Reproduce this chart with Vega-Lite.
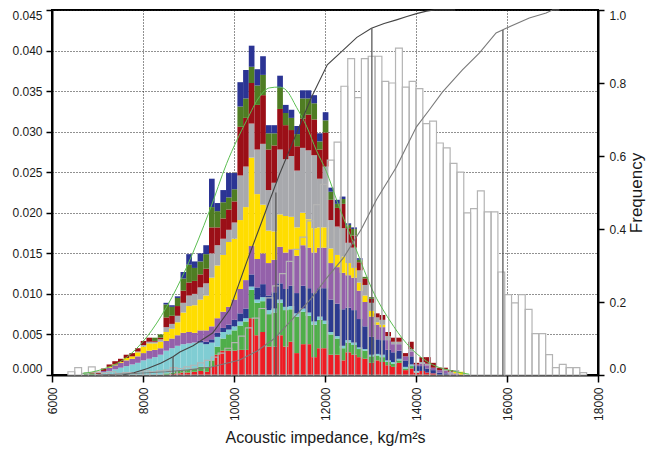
{
"$schema": "https://vega.github.io/schema/vega-lite/v6.json",
"width": 546, "height": 365,
"autosize": {"type": "none"},
"padding": {"left": 52, "top": 10, "right": 49, "bottom": 74},
"background": "white",
"config": {
 "view": {"stroke": "black", "strokeWidth": 2},
 "axis": {"labelFont": "Liberation Sans", "labelFontSize": 12, "labelColor": "#1a1a1a", "titleFont": "Liberation Sans", "titleFontWeight": "normal", "titleColor": "#1a1a1a", "domainColor": "black", "domainWidth": 2, "tickColor": "black", "tickWidth": 1.5, "tickSize": 6, "gridColor": "#222", "gridDash": [1, 2], "gridWidth": 1, "gridOpacity": 1}
},
"datasets": {
 "white": [
  {"lo":6350,"hi":6500,"f":0.0004},{"lo":6500,"hi":6650,"f":0.0009},{"lo":6650,"hi":6800,"f":0.0002},{"lo":6800,"hi":6950,"f":0.001},
  {"lo":6950,"hi":7100,"f":0.0003},{"lo":7100,"hi":7250,"f":0.0003},{"lo":7250,"hi":7400,"f":0.0004},{"lo":7400,"hi":7550,"f":0.0002},
  {"lo":7550,"hi":7700,"f":0.0003},{"lo":7700,"hi":7850,"f":0.0003},{"lo":7850,"hi":8000,"f":0.0004},{"lo":8000,"hi":8150,"f":0.0005},
  {"lo":8150,"hi":8300,"f":0.0004},{"lo":8300,"hi":8450,"f":0.0005},{"lo":8450,"hi":8600,"f":0.0006},{"lo":8600,"hi":8750,"f":0.0009},
  {"lo":8750,"hi":8900,"f":0.0008},{"lo":8900,"hi":9050,"f":0.001},{"lo":9050,"hi":9200,"f":0.0012},{"lo":9200,"hi":9350,"f":0.0015},
  {"lo":9350,"hi":9500,"f":0.0018},{"lo":9500,"hi":9650,"f":0.0022},{"lo":9650,"hi":9800,"f":0.0027},{"lo":9800,"hi":9950,"f":0.0033},
  {"lo":9950,"hi":10100,"f":0.004},{"lo":10100,"hi":10250,"f":0.0048},{"lo":10250,"hi":10400,"f":0.0058},{"lo":10400,"hi":10550,"f":0.007},
  {"lo":10550,"hi":10700,"f":0.0082},{"lo":10700,"hi":10850,"f":0.0095},{"lo":10850,"hi":11000,"f":0.011},{"lo":11000,"hi":11150,"f":0.0125},
  {"lo":11150,"hi":11300,"f":0.014},{"lo":11300,"hi":11450,"f":0.0155},{"lo":11450,"hi":11600,"f":0.017},{"lo":11600,"hi":11750,"f":0.019},
  {"lo":11750,"hi":11900,"f":0.021},{"lo":11900,"hi":12050,"f":0.0235},{"lo":12050,"hi":12200,"f":0.0265},{"lo":12200,"hi":12350,"f":0.0287},
  {"lo":12350,"hi":12500,"f":0.0356},{"lo":12500,"hi":12650,"f":0.039},{"lo":12650,"hi":12800,"f":0.0342},{"lo":12800,"hi":12950,"f":0.039},
  {"lo":12950,"hi":13100,"f":0.0393},{"lo":13100,"hi":13250,"f":0.0393},{"lo":13250,"hi":13400,"f":0.0362},{"lo":13400,"hi":13550,"f":0.036},
  {"lo":13550,"hi":13700,"f":0.0403},{"lo":13700,"hi":13850,"f":0.0355},{"lo":13850,"hi":14000,"f":0.0362},{"lo":14000,"hi":14150,"f":0.0353},
  {"lo":14150,"hi":14300,"f":0.031},{"lo":14300,"hi":14450,"f":0.0313},{"lo":14450,"hi":14600,"f":0.0286},{"lo":14600,"hi":14750,"f":0.028},
  {"lo":14750,"hi":14900,"f":0.0261},{"lo":14900,"hi":15050,"f":0.025},{"lo":15050,"hi":15200,"f":0.02},{"lo":15200,"hi":15350,"f":0.0205},
  {"lo":15350,"hi":15500,"f":0.0227},{"lo":15500,"hi":15650,"f":0.0201},{"lo":15650,"hi":15800,"f":0.0201},{"lo":15800,"hi":15950,"f":0.0127},
  {"lo":15950,"hi":16100,"f":0.0099},{"lo":16100,"hi":16250,"f":0.0089},{"lo":16250,"hi":16400,"f":0.0099},{"lo":16400,"hi":16550,"f":0.0081},
  {"lo":16550,"hi":16700,"f":0.0051},{"lo":16700,"hi":16850,"f":0.0051},{"lo":16850,"hi":17000,"f":0.0025},{"lo":17000,"hi":17150,"f":0.0009},
  {"lo":17150,"hi":17300,"f":0.0013},{"lo":17300,"hi":17450,"f":0.0009},{"lo":17450,"hi":17600,"f":0.0009},{"lo":17600,"hi":17750,"f":0.0003}
 ],
 "stack": [
  {"lo":6700,"hi":6825,"c02":0.0003},
  {"lo":6825,"hi":6950,"c02":0.0002,"c08":0.0001},
  {"lo":6950,"hi":7075,"c03":0.0001,"c08":0.0003},
  {"lo":7075,"hi":7200,"c03":0.0003,"c05":0.0002,"c08":0.0003},
  {"lo":7200,"hi":7325,"c03":0.0005,"c05":0.0004,"c06":0.0001,"c08":0.0003},
  {"lo":7325,"hi":7450,"c03":0.0007,"c05":0.0005,"c06":0.0001,"c08":0.0004},
  {"lo":7450,"hi":7575,"c03":0.0009,"c05":0.0006,"c06":0.0001,"c08":0.0004},
  {"lo":7575,"hi":7700,"c03":0.0011,"c05":0.0007,"c06":0.0003,"c08":0.0004},
  {"lo":7700,"hi":7825,"c03":0.0013,"c05":0.0007,"c06":0.0003,"c08":0.0004},
  {"lo":7825,"hi":7950,"c03":0.0015,"c05":0.0008,"c06":0.0005,"c07":0.0001,"c08":0.0004},
  {"lo":7950,"hi":8075,"c03":0.0018,"c05":0.0009,"c06":0.0008,"c07":0.0002,"c08":0.0005},
  {"lo":8075,"hi":8200,"c03":0.002,"c05":0.001,"c06":0.0009,"c07":0.0002,"c08":0.0005},
  {"lo":8200,"hi":8325,"c03":0.0022,"c05":0.0009,"c06":0.0008,"c07":0.0002,"c08":0.0001,"c09":0.0004},
  {"lo":8325,"hi":8450,"c03":0.0025,"c05":0.0008,"c06":0.0008,"c07":0.0003,"c08":0.0002,"c09":0.0004},
  {"lo":8450,"hi":8575,"c02":0.0002,"c03":0.0028,"c05":0.0012,"c06":0.0011,"c07":0.0006,"c08":0.0012,"c09":0.0016,"c10":0.0002},
  {"lo":8575,"hi":8700,"c01":0.0001,"c02":0.0002,"c03":0.003,"c05":0.0012,"c06":0.0012,"c07":0.0006,"c08":0.001,"c09":0.0011,"c10":0.0002},
  {"lo":8700,"hi":8825,"c01":0.0002,"c02":0.0003,"c03":0.0031,"c05":0.0013,"c06":0.0016,"c07":0.0008,"c08":0.0012,"c09":0.001,"c10":0.0002},
  {"lo":8825,"hi":8950,"c01":0.0003,"c02":0.0003,"c03":0.0032,"c05":0.0014,"c06":0.0025,"c07":0.0012,"c08":0.0015,"c09":0.0015,"c10":0.0008},
  {"lo":8950,"hi":9075,"c01":0.0003,"c02":0.0004,"c03":0.0032,"c05":0.0014,"c06":0.0032,"c07":0.0013,"c08":0.0016,"c09":0.0022,"c10":0.0013},
  {"lo":9075,"hi":9200,"c01":0.0004,"c02":0.0004,"c03":0.0032,"c05":0.0012,"c06":0.0034,"c07":0.0014,"c08":0.0016,"c09":0.0016,"c10":0.0008},
  {"lo":9200,"hi":9325,"c01":0.0005,"c02":0.0005,"c03":0.003,"c04":0.0002,"c05":0.0013,"c06":0.0038,"c07":0.0015,"c08":0.0016,"c09":0.0016,"c10":0.001},
  {"lo":9325,"hi":9450,"c01":0.0004,"c02":0.0006,"c03":0.0028,"c04":0.0003,"c05":0.0014,"c06":0.0043,"c07":0.0015,"c08":0.0018,"c09":0.0018,"c10":0.0011},
  {"lo":9450,"hi":9575,"c01":0.001,"c02":0.0008,"c03":0.0022,"c04":0.0004,"c05":0.0016,"c06":0.006,"c07":0.003,"c08":0.0032,"c09":0.0025,"c10":0.0035},
  {"lo":9575,"hi":9700,"c01":0.0025,"c02":0.001,"c03":0.0012,"c04":0.0005,"c05":0.0018,"c06":0.0065,"c07":0.0025,"c08":0.0022,"c09":0.002,"c10":0.001},
  {"lo":9700,"hi":9825,"c01":0.003,"c02":0.0015,"c03":0.0008,"c04":0.0005,"c05":0.002,"c06":0.007,"c07":0.002,"c08":0.0025,"c09":0.002,"c10":0.0015},
  {"lo":9825,"hi":9950,"c01":0.003,"c02":0.002,"c03":0.0006,"c04":0.0006,"c05":0.0022,"c06":0.008,"c07":0.0015,"c08":0.0025,"c09":0.0015,"c10":0.003},
  {"lo":9950,"hi":10075,"c01":0.003,"c02":0.0025,"c03":0.0005,"c04":0.0008,"c05":0.0025,"c06":0.0075,"c07":0.002,"c08":0.0026,"c09":0.0015,"c10":0.002},
  {"lo":10075,"hi":10200,"c01":0.0031,"c02":0.003,"c03":0.0005,"c04":0.001,"c05":0.003,"c06":0.0085,"c07":0.0055,"c08":0.006,"c09":0.0025,"c10":0.003},
  {"lo":10200,"hi":10325,"c01":0.0031,"c02":0.0035,"c03":0.0004,"c04":0.0012,"c05":0.0035,"c06":0.009,"c07":0.005,"c08":0.006,"c09":0.0024,"c10":0.0035},
  {"lo":10325,"hi":10450,"c01":0.007,"c02":0.0035,"c03":0.0004,"c04":0.0015,"c05":0.0035,"c06":0.0109,"c07":0.0042,"c08":0.005,"c09":0.002,"c10":0.0026},
  {"lo":10450,"hi":10575,"c01":0.0049,"c02":0.004,"c03":0.0004,"c04":0.0015,"c05":0.0035,"c06":0.008,"c07":0.0055,"c08":0.0055,"c09":0.0024,"c10":0.002},
  {"lo":10575,"hi":10700,"c01":0.0053,"c02":0.0038,"c03":0.0005,"c04":0.0016,"c05":0.0038,"c06":0.006,"c07":0.0075,"c08":0.006,"c09":0.0025,"c10":0.0023},
  {"lo":10700,"hi":10825,"c01":0.0035,"c02":0.004,"c03":0.0005,"c04":0.0018,"c05":0.004,"c06":0.004,"c07":0.005,"c08":0.005,"c09":0.002,"c10":0.001},
  {"lo":10825,"hi":10950,"c01":0.0035,"c02":0.0042,"c03":0.0005,"c04":0.002,"c05":0.004,"c06":0.0035,"c07":0.006,"c08":0.0046,"c09":0.0015,"c10":0.001},
  {"lo":10950,"hi":11075,"c01":0.0049,"c02":0.004,"c03":0.0004,"c04":0.002,"c05":0.0045,"c06":0.004,"c07":0.008,"c08":0.005,"c09":0.0026,"c10":0.0015},
  {"lo":11075,"hi":11200,"c01":0.0035,"c02":0.0045,"c03":0.0004,"c04":0.0022,"c05":0.0045,"c06":0.0045,"c07":0.007,"c08":0.0042,"c09":0.0015,"c10":0.001},
  {"lo":11200,"hi":11325,"c01":0.0041,"c02":0.004,"c03":0.0004,"c04":0.0025,"c05":0.0045,"c06":0.004,"c07":0.0075,"c08":0.0032,"c09":0.0015,"c10":0.001},
  {"lo":11325,"hi":11450,"c01":0.0027,"c02":0.0045,"c03":0.0004,"c04":0.0025,"c05":0.0046,"c06":0.0035,"c07":0.007,"c08":0.003,"c09":0.0015,"c10":0.001},
  {"lo":11450,"hi":11575,"c01":0.0038,"c02":0.004,"c03":0.0004,"c04":0.0028,"c05":0.005,"c06":0.004,"c07":0.008,"c08":0.0036,"c09":0.0025,"c10":0.001},
  {"lo":11575,"hi":11700,"c01":0.0038,"c02":0.0035,"c03":0.0004,"c04":0.003,"c05":0.005,"c06":0.0035,"c07":0.0085,"c08":0.0044,"c09":0.002,"c10":0.001},
  {"lo":11700,"hi":11825,"c01":0.0022,"c02":0.004,"c03":0.0004,"c04":0.0035,"c05":0.005,"c06":0.003,"c07":0.009,"c08":0.0044,"c09":0.002,"c10":0.001},
  {"lo":11825,"hi":11950,"c01":0.0033,"c02":0.0035,"c03":0.0004,"c04":0.0035,"c05":0.005,"c06":0.0025,"c07":0.006,"c08":0.0036,"c09":0.001,"c10":0.001},
  {"lo":11950,"hi":12075,"c01":0.0033,"c02":0.003,"c03":0.0004,"c04":0.004,"c05":0.005,"c06":0.0025,"c07":0.0075,"c08":0.0042,"c09":0.0015,"c10":0.001},
  {"lo":12075,"hi":12200,"c01":0.0025,"c02":0.0025,"c03":0.0003,"c04":0.004,"c05":0.0045,"c06":0.0018,"c07":0.0035,"c08":0.0025,"c09":0.001,"c10":0.0005},
  {"lo":12200,"hi":12325,"c01":0.0025,"c02":0.002,"c03":0.0003,"c04":0.004,"c05":0.0045,"c06":0.0015,"c07":0.0035,"c08":0.0023,"c09":0.0005,"c10":0.0005},
  {"lo":12325,"hi":12450,"c01":0.0018,"c02":0.0015,"c03":0.0003,"c04":0.0045,"c05":0.0045,"c06":0.002,"c07":0.0035,"c08":0.003,"c09":0.0006,"c10":0.0003},
  {"lo":12450,"hi":12575,"c01":0.0028,"c02":0.0012,"c03":0.0003,"c04":0.004,"c05":0.004,"c06":0.0015,"c07":0.0025,"c08":0.0018,"c09":0.0004,"c10":0.0002},
  {"lo":12575,"hi":12700,"c01":0.0025,"c02":0.0012,"c03":0.0003,"c04":0.004,"c05":0.004,"c06":0.0012,"c07":0.0025,"c08":0.0015,"c09":0.0008,"c10":0.0002},
  {"lo":12700,"hi":12825,"c01":0.0022,"c02":0.001,"c03":0.0002,"c04":0.0035,"c05":0.0035,"c06":0.001,"c07":0.0015,"c08":0.001,"c09":0.0003,"c10":0.0002},
  {"lo":12825,"hi":12950,"c01":0.002,"c02":0.001,"c03":0.0002,"c04":0.0028,"c05":0.003,"c06":0.0008,"c07":0.0013,"c08":0.0008,"c09":0.0002},
  {"lo":12950,"hi":13075,"c01":0.0015,"c02":0.0008,"c03":0.0002,"c04":0.0022,"c05":0.0025,"c06":0.0007,"c07":0.001,"c08":0.0005,"c09":0.0002},
  {"lo":13075,"hi":13200,"c01":0.0018,"c02":0.0006,"c03":0.0002,"c04":0.0018,"c05":0.0018,"c06":0.0003,"c07":0.0006,"c08":0.0005},
  {"lo":13200,"hi":13325,"c01":0.0016,"c02":0.0006,"c03":0.0003,"c04":0.0018,"c05":0.0016,"c06":0.0003,"c07":0.0006,"c08":0.0006},
  {"lo":13325,"hi":13450,"c01":0.0012,"c02":0.0004,"c03":0.0002,"c04":0.0013,"c05":0.0012,"c07":0.0005,"c08":0.0005},
  {"lo":13450,"hi":13575,"c01":0.001,"c02":0.0004,"c03":0.0002,"c04":0.0012,"c05":0.001,"c07":0.0003,"c08":0.0005},
  {"lo":13575,"hi":13700,"c01":0.0015,"c02":0.0003,"c03":0.0002,"c04":0.001,"c05":0.0008,"c07":0.0003,"c08":0.0005},
  {"lo":13700,"hi":13825,"c01":0.0006,"c02":0.0002,"c03":0.0002,"c04":0.0008,"c05":0.0005,"c08":0.0004},
  {"lo":13825,"hi":13950,"c01":0.0008,"c02":0.0003,"c03":0.0002,"c04":0.001,"c05":0.0006,"c07":0.0003,"c08":0.0009},
  {"lo":13950,"hi":14075,"c01":0.0003,"c03":0.0002,"c04":0.0006,"c05":0.0002,"c08":0.0002},
  {"lo":14075,"hi":14200,"c01":0.0005,"c04":0.0006,"c05":0.0003,"c07":0.0002,"c08":0.0006},
  {"lo":14200,"hi":14325,"c01":0.0003,"c04":0.0005,"c05":0.0004,"c07":0.0002,"c08":0.0008},
  {"lo":14325,"hi":14450,"c01":0.0002,"c04":0.0004,"c05":0.0003,"c08":0.0006},
  {"lo":14450,"hi":14575,"c04":0.0003,"c05":0.0003,"c08":0.0003},
  {"lo":14575,"hi":14700,"c04":0.0002,"c05":0.0003,"c07":0.0002,"c08":0.0002},
  {"lo":14700,"hi":14825,"c05":0.0002,"c07":0.0002,"c08":0.0002},
  {"lo":14825,"hi":14950,"c05":0.0002,"c06":0.0002,"c07":0.0002},
  {"lo":14950,"hi":15075,"c06":0.0004}
 ],
 "gauss": [
  {"x":6680,"v":0.0002},{"x":7050,"v":0.0006},{"x":7645,"v":0.0022},{"x":8085,"v":0.0047},{"x":8520,"v":0.0084},
  {"x":8960,"v":0.0133},{"x":9466,"v":0.0203},{"x":9840,"v":0.0261},{"x":10280,"v":0.0314},{"x":10560,"v":0.0343},
  {"x":10780,"v":0.0354},{"x":11000,"v":0.0355},{"x":11150,"v":0.0351},{"x":11375,"v":0.033},{"x":11600,"v":0.0306},
  {"x":11810,"v":0.0277},{"x":12030,"v":0.0251},{"x":12280,"v":0.0212},{"x":12690,"v":0.0154},{"x":13040,"v":0.0105},
  {"x":13415,"v":0.0068},{"x":13790,"v":0.0039},{"x":14290,"v":0.0015},{"x":14885,"v":0.0004},{"x":15170,"v":0.0001}
 ],
 "cdfA": [
  {"x":7550,"F":0},{"x":7800,"F":0.006},{"x":8100,"F":0.018},{"x":8400,"F":0.033},{"x":8660,"F":0.05},
  {"x":8810,"F":0.063},{"x":9100,"F":0.08},{"x":9530,"F":0.115},{"x":9910,"F":0.18},{"x":10280,"F":0.31},
  {"x":10550,"F":0.4},{"x":10790,"F":0.48},{"x":11000,"F":0.55},{"x":11300,"F":0.64},{"x":11700,"F":0.76},
  {"x":12050,"F":0.85},{"x":12400,"F":0.89},{"x":12700,"F":0.925},{"x":13020,"F":0.95},{"x":13300,"F":0.963},
  {"x":13570,"F":0.973},{"x":13800,"F":0.982},{"x":14010,"F":0.99},{"x":14230,"F":0.997},{"x":14400,"F":1},{"x":14860,"F":1}
 ],
 "cdfB": [
  {"x":7000,"F":0},{"x":7800,"F":0.004},{"x":8500,"F":0.009},{"x":9000,"F":0.014},{"x":9500,"F":0.022},
  {"x":10125,"F":0.041},{"x":10500,"F":0.065},{"x":10890,"F":0.1},{"x":11300,"F":0.155},{"x":11700,"F":0.21},
  {"x":12000,"F":0.26},{"x":12400,"F":0.32},{"x":12800,"F":0.4},{"x":13130,"F":0.48},{"x":13570,"F":0.57},
  {"x":14010,"F":0.68},{"x":14290,"F":0.726},{"x":14580,"F":0.775},{"x":15020,"F":0.836},{"x":15390,"F":0.882},
  {"x":15760,"F":0.937},{"x":15980,"F":0.95},{"x":16490,"F":0.978},{"x":16860,"F":0.992},{"x":17000,"F":1},{"x":17150,"F":1}
 ],
 "pct": [
  {"x":8660,"F":0.05},{"x":10920,"F":0.5},{"x":13030,"F":0.95},{"x":15910,"F":0.945}
 ]
},
"layer": [
 {
  "layer": [
   {
    "data": {"name": "white"},
    "mark": {"type": "rect", "fill": "white", "strokeWidth": 0},
    "encoding": {
     "x": {"field": "lo", "type": "quantitative", "scale": {"domain": [6000, 18000], "nice": false, "zero": false},
       "axis": {"values": [6000, 8000, 10000, 12000, 14000, 16000, 18000], "format": "d", "labelAngle": -90, "labelPadding": 5, "tickSize": 7, "grid": true, "title": "Acoustic impedance, kg/m²s", "titleFontSize": 16, "titlePadding": 9}},
     "x2": {"field": "hi"},
     "y": {"field": "f", "type": "quantitative", "scale": {"domain": [0, 0.045], "nice": false, "zero": true},
       "axis": {"values": [0, 0.005, 0.01, 0.015, 0.02, 0.025, 0.03, 0.035, 0.04, 0.045], "format": ".3f", "grid": true, "title": "", "labelFlush": true, "labelPadding": 4}},
     "y2": {"datum": 0}
    }
   },
   {
    "data": {"name": "stack"},
    "transform": [
     {"fold": ["c01","c02","c03","c04","c05","c06","c07","c08","c09","c10"], "as": ["cls", "val"]},
     {"filter": "datum.val > 0"},
     {"stack": "val", "groupby": ["lo"], "sort": [{"field": "cls", "order": "ascending"}], "as": ["v0", "v1"]}
    ],
    "mark": {"type": "rect", "strokeWidth": 0},
    "encoding": {
     "x": {"field": "lo", "type": "quantitative"},
     "x2": {"field": "hi"},
     "y": {"field": "v0", "type": "quantitative"},
     "y2": {"field": "v1"},
     "color": {"field": "cls", "type": "nominal", "legend": null,
       "scale": {"domain": ["c01","c02","c03","c04","c05","c06","c07","c08","c09","c10"],
                 "range": ["#ed1c24","#4fae4a","#80cdd3","#2c3a8f","#9461aa","#ffdd00","#a8a9ad","#9b0f17","#4f7d23","#2b3494"]}}
    }
   },
   {
    "data": {"name": "white"},
    "mark": {"type": "rect", "fill": null, "fillOpacity": 0, "stroke": "#b4b4b4", "strokeWidth": 1.2},
    "encoding": {
     "x": {"field": "lo", "type": "quantitative"},
     "x2": {"field": "hi"},
     "y": {"field": "f", "type": "quantitative"},
     "y2": {"datum": 0}
    }
   },
   {
    "data": {"name": "gauss"},
    "mark": {"type": "line", "color": "#5cbf52", "strokeWidth": 1, "interpolate": "monotone"},
    "encoding": {
     "x": {"field": "x", "type": "quantitative"},
     "y": {"field": "v", "type": "quantitative"}
    }
   }
  ]
 },
 {
  "layer": [
   {
    "data": {"name": "cdfA"},
    "mark": {"type": "line", "color": "#444444", "strokeWidth": 1.1},
    "encoding": {
     "x": {"field": "x", "type": "quantitative"},
     "y": {"field": "F", "type": "quantitative", "scale": {"domain": [0, 1], "nice": false},
       "axis": {"orient": "right", "values": [0, 0.2, 0.4, 0.6, 0.8, 1], "format": ".1f", "grid": false, "labelFlush": true, "labelPadding": 5, "title": "Frequency", "titleFontSize": 17, "titleAngle": 270, "titleBaseline": "top", "titlePadding": 3}}
    }
   },
   {
    "data": {"name": "cdfB"},
    "mark": {"type": "line", "color": "#7a7a7a", "strokeWidth": 1.1},
    "encoding": {
     "x": {"field": "x", "type": "quantitative"},
     "y": {"field": "F", "type": "quantitative"}
    }
   },
   {
    "data": {"name": "pct"},
    "mark": {"type": "rule", "color": "#5a5a5a", "strokeWidth": 1.3},
    "encoding": {
     "x": {"field": "x", "type": "quantitative"},
     "y": {"field": "F", "type": "quantitative"},
     "y2": {"datum": 0}
    }
   }
  ]
 }
],
"resolve": {"scale": {"y": "independent"}}
}
